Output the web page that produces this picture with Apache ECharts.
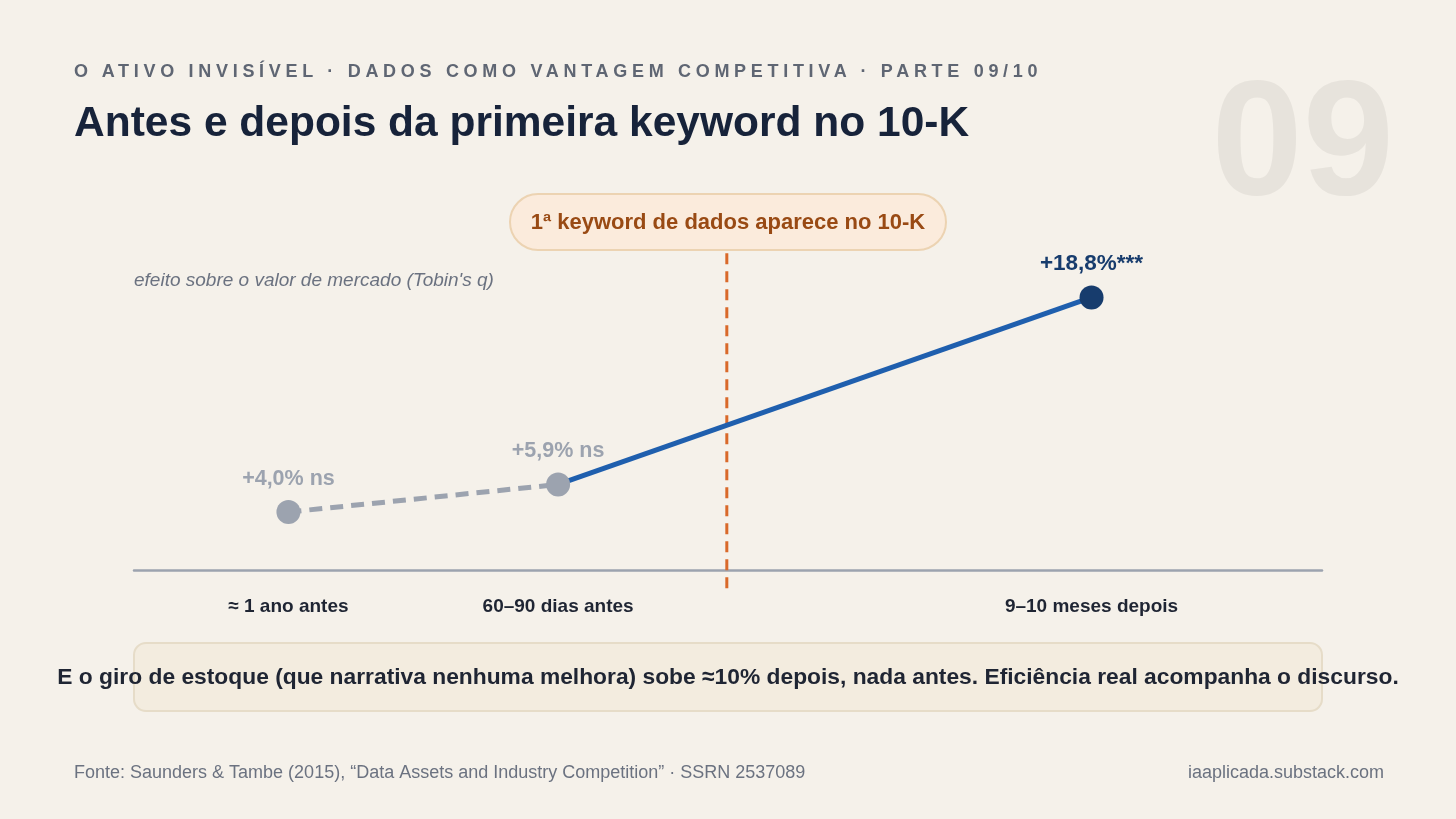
<!DOCTYPE html>
<html>
<head>
<meta charset="utf-8">
<script src="https://cdn.jsdelivr.net/npm/echarts@6/dist/echarts.min.js"></script>
<style>
  html, body { margin: 0; padding: 0; background: #f5f1ea; }
  #wrap { position: relative; width: 1456px; height: 819px; }
  #chart { width: 1456px; height: 819px; }
  #kicker {
    position: absolute; left: 74px; top: 61px;
    font-family: "Liberation Sans", Arial, sans-serif;
    font-weight: bold; font-size: 18px; line-height: 20px; letter-spacing: 4.7px;
    color: #5f6673; white-space: nowrap;
  }
</style>
</head>
<body>
<div id="wrap">
  <div id="chart"></div>
  <div id="kicker">O ATIVO INVISÍVEL · DADOS COMO VANTAGEM COMPETITIVA · PARTE 09/10</div>
</div>
<script>
// momentos medidos em torno da primeira keyword no 10-K
var periodos = ['≈ 1 ano antes', '60–90 dias antes', '9–10 meses depois'];
var posicao = [1.3, 3.57, 8.06];        // posição no eixo do tempo (escala 0–10)
var efeito = [4.0, 5.9, 18.8];          // efeito sobre Tobin's q, %
var rotulos = ['+4,0% ns', '+5,9% ns', '+18,8%***'];
var significativo = [false, false, true];
var keywordPos = 4.99;                  // momento da 1ª keyword

var FONT = '"Liberation Sans", Arial, sans-serif';
var GREY = '#9ca3af';
var NAVY = '#173c6d';
var BLUE = '#1f5fae';
var ORANGE = '#d9692a';

var chart = echarts.init(document.getElementById('chart'));

var pontos = posicao.map(function (x, i) {
    var cor = significativo[i] ? NAVY : GREY;
    return {
        value: [x, efeito[i]],
        itemStyle: { color: cor, opacity: 1 },
        label: { color: cor, formatter: rotulos[i], fontSize: significativo[i] ? 22.5 : 21.5 }
    };
});

var option = {
    backgroundColor: '#f5f1ea',
    textStyle: { fontFamily: FONT },
    animation: false,
    grid: { left: 134, right: 134, top: 251, bottom: 249 },
    xAxis: {
        type: 'value', min: 0, max: 10,
        splitLine: { show: false },
        axisLine: { show: true, onZero: false, lineStyle: { color: GREY, width: 2.5 } },
        axisTick: { show: false },
        axisLabel: {
            customValues: posicao,
            margin: 27,
            fontSize: 19, fontWeight: 'bold', color: '#1f2533', fontFamily: FONT,
            formatter: function (v) {
                var i = posicao.indexOf(v);
                return i >= 0 ? periodos[i] : '';
            }
        }
    },
    yAxis: {
        type: 'value', min: 0, max: 22,
        show: false
    },
    graphic: [
        {
            type: 'text', x: 1394, y: 149, z: 0,
            style: { text: '09', font: 'bold 164px ' + FONT, fill: '#e7e3dc', align: 'right', verticalAlign: 'middle' }
        },
        {
            type: 'text', left: 74, top: 103,
            style: { text: 'Antes e depois da primeira keyword no 10-K', font: 'bold 42.5px ' + FONT, fill: '#17233a' }
        },
        {
            type: 'rect', shape: { x: 510, y: 194, width: 436, height: 56, r: 28 },
            style: { fill: '#fbebdc', stroke: '#ecd3b2', lineWidth: 2 }, z: 10
        },
        {
            type: 'text', x: 728, y: 223, z: 11,
            style: { text: '1ª keyword de dados aparece no 10-K', font: 'bold 22px ' + FONT, fill: '#994a14', align: 'center', verticalAlign: 'middle' }
        },
        {
            type: 'text', x: 134, y: 281,
            style: { text: "efeito sobre o valor de mercado (Tobin's q)", font: 'italic 19px ' + FONT, fill: '#6b7280', verticalAlign: 'middle' }
        },
        {
            type: 'rect', shape: { x: 134, y: 643, width: 1188, height: 68, r: 12 },
            style: { fill: '#f3ecdf', stroke: '#e6dcc8', lineWidth: 2 }
        },
        {
            type: 'text', x: 728, y: 678,
            style: { text: 'E o giro de estoque (que narrativa nenhuma melhora) sobe ≈10% depois, nada antes. Eficiência real acompanha o discurso.', font: 'bold 22.8px ' + FONT, fill: '#1f2533', align: 'center', verticalAlign: 'middle' }
        },
        {
            type: 'text', x: 74, y: 773,
            style: { text: 'Fonte: Saunders & Tambe (2015), “Data Assets and Industry Competition” · SSRN 2537089', font: '18px ' + FONT, fill: '#6b7280', verticalAlign: 'middle' }
        },
        {
            type: 'text', x: 1384, y: 773,
            style: { text: 'iaaplicada.substack.com', font: '18px ' + FONT, fill: '#6b7280', align: 'right', verticalAlign: 'middle' }
        }
    ],
    series: [
        {
            // linha vertical do evento, passa um pouco abaixo do eixo
            name: 'keyword', type: 'line', clip: false, symbol: 'none', silent: true,
            data: [[keywordPos, -1.25], [keywordPos, 22]],
            lineStyle: { color: ORANGE, width: 3, type: [11, 7] },
            z: 1
        },
        {
            name: 'antes', type: 'line', symbol: 'none',
            data: [[posicao[0], efeito[0]], [posicao[1], efeito[1]]],
            lineStyle: { color: GREY, width: 5, type: [13, 8] },
            z: 2
        },
        {
            name: 'depois', type: 'line', symbol: 'none',
            data: [[posicao[1], efeito[1]], [posicao[2], efeito[2]]],
            lineStyle: { color: BLUE, width: 5 },
            z: 2
        },
        {
            name: 'efeito', type: 'scatter', symbolSize: 24,
            data: pontos,
            label: {
                show: true, position: 'top', distance: 10,
                fontWeight: 'bold', fontFamily: FONT
            },
            z: 3
        }
    ]
};

chart.setOption(option);
</script>
</body>
</html>
